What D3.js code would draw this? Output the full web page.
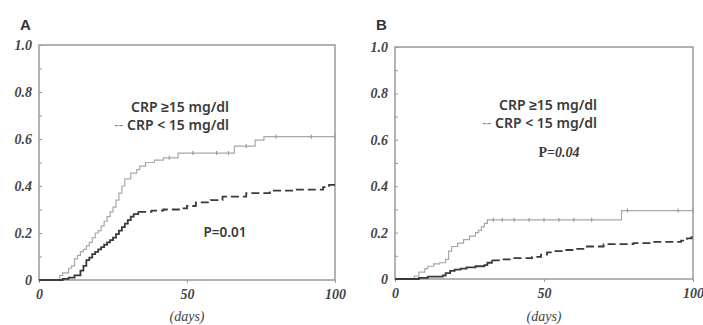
<!DOCTYPE html>
<html>
<head>
<meta charset="utf-8">
<script src="https://cdn.jsdelivr.net/npm/d3@7"></script>
<style>
  body { margin: 0; background: #fff; }
  svg { display: block; }
</style>
</head>
<body>
<svg width="703" height="325"></svg>
<script>
// Kaplan-Meier style step data: [day, cumulative value]
const highA = [[0,0],[7,0.02],[8,0.03],[10,0.05],[11,0.06],[12,0.09],[13,0.105],[14,0.12],[15,0.13],[16,0.145],[17,0.16],[18,0.18],[19,0.2],[20,0.21],[21,0.23],[22,0.25],[23,0.27],[24,0.29],[25,0.31],[26,0.34],[27,0.37],[28,0.4],[29,0.43],[31,0.455],[33,0.47],[34,0.485],[36,0.5],[39,0.51],[42,0.52],[47,0.54],[66,0.57],[73,0.595],[76,0.61],[100,0.61]];
const lowA = [[0,0],[8,0.005],[10,0.01],[12,0.02],[14,0.04],[15,0.06],[16,0.085],[17,0.095],[18,0.11],[19,0.12],[20,0.13],[21,0.14],[22,0.15],[23,0.16],[24,0.17],[25,0.18],[26,0.195],[27,0.21],[28,0.225],[29,0.24],[30,0.255],[31,0.27],[32,0.28],[33.5,0.29],[38,0.295],[42,0.3],[48,0.305],[50,0.315],[53,0.33],[58,0.34],[62,0.355],[70,0.37],[78,0.38],[86,0.385],[96,0.395],[98,0.405],[100,0.405]];
const highB = [[0,0],[6.5,0.013],[8,0.03],[10,0.045],[11,0.055],[13,0.065],[15,0.07],[17,0.085],[18,0.12],[19,0.14],[21,0.155],[23,0.17],[25,0.185],[27,0.2],[28,0.21],[29,0.225],[30,0.24],[31,0.255],[76,0.295],[100,0.295]];
const lowB = [[0,0],[8,0.005],[11,0.01],[16,0.015],[17,0.025],[18.5,0.035],[20,0.04],[22,0.045],[24,0.05],[27,0.055],[30,0.06],[31,0.07],[32.5,0.08],[36,0.085],[40,0.09],[46,0.095],[49,0.105],[51,0.115],[53,0.12],[57,0.125],[60,0.13],[64,0.14],[70,0.15],[80,0.155],[86,0.16],[96,0.165],[98,0.175],[99.5,0.18],[100,0.18]];

// censored observations (small tick marks on the high-CRP curves)
const censorHighA = [44, 52, 60, 64, 70, 80, 92, 100];
const censorHighB = [33, 36, 40, 45, 50, 55, 60, 66, 78, 95, 100];

// day after which the low-CRP curve is drawn dashed
const kneeA = 33.5;
const kneeB = 32.5;

const yTicks = [0, 0.2, 0.4, 0.6, 0.8, 1.0];
const yTickLabels = ['0', '0.2', '0.4', '0.6', '0.8', '1.0'];
const xTicks = [0, 50, 100];
const legendHigh = 'CRP \u226515 mg/dl';
const legendLow = 'CRP < 15 mg/dl';

const panels = [
  { name: 'A', high: highA, low: lowA, censor: censorHighA, knee: kneeA, p: 'P=0.01', box: { l: 39, r: 335, t: 45, b: 280 },
    legendX: 229, legendY: 112, pX: 225, pY: 237, pItalic: false },
  { name: 'B', high: highB, low: lowB, censor: censorHighB, knee: kneeB, p: 'P=0.04', box: { l: 395, r: 693, t: 47, b: 279 },
    legendX: 597, legendY: 110, pX: 559, pY: 157, pItalic: true }
];

const svg = d3.select('svg');

function stepValue(data, day) {
  let v = 0;
  data.forEach(d => { if (d[0] <= day) v = d[1]; });
  return v;
}

panels.forEach(p => {
  const x = d3.scaleLinear().domain([0, 100]).range([p.box.l, p.box.r]);
  const y = d3.scaleLinear().domain([0, 1]).range([p.box.b, p.box.t]);
  const g = svg.append('g');

  // panel letter
  g.append('text')
    .attr('x', p.box.l - 19)
    .attr('y', 30)
    .style('font-family', 'Liberation Sans, Arial, sans-serif')
    .style('font-weight', 'bold')
    .style('font-size', '15px')
    .style('fill', '#333')
    .text(p.name);

  // frame
  g.append('rect')
    .attr('x', x(0)).attr('y', y(1))
    .attr('width', x(100) - x(0)).attr('height', y(0) - y(1))
    .attr('fill', 'none')
    .attr('stroke', '#8a8a8a')
    .attr('stroke-width', 1.3);

  // y axis
  const yAxis = g.append('g')
    .attr('transform', `translate(${x(0)},0)`)
    .call(d3.axisLeft(y).tickValues(d3.range(0, 1.01, 0.1)).tickSize(-3)
      .tickFormat(d => {
        const i = yTicks.findIndex(t => Math.abs(t - d) < 1e-6);
        return i >= 0 ? yTickLabels[i] : '';
      })
      .tickPadding(7));
  yAxis.select('.domain').remove();

  // x axis
  const xAxis = g.append('g')
    .attr('transform', `translate(0,${y(0)})`)
    .call(d3.axisBottom(x).tickValues(xTicks).tickSize(3).tickFormat(d3.format('d')).tickPadding(6));
  xAxis.select('.domain').remove();

  [yAxis, xAxis].forEach(a => {
    a.attr('font-size', null).attr('font-family', null);
    a.selectAll('line').attr('stroke', '#999');
    a.selectAll('text')
      .style('font-family', 'Liberation Serif, Times New Roman, serif')
      .style('font-style', 'italic')
      .style('font-weight', 'bold')
      .style('font-size', '14px')
      .style('fill', '#444');
  });

  g.append('text')
    .attr('x', (x(0) + x(100)) / 2)
    .attr('y', 321)
    .attr('text-anchor', 'middle')
    .style('font-family', 'Liberation Serif, Times New Roman, serif')
    .style('font-style', 'italic')
    .style('font-size', '14px')
    .style('fill', '#444')
    .text('(days)');

  const line = d3.line().x(d => x(d[0])).y(d => y(d[1])).curve(d3.curveStepAfter);

  // high CRP: thin gray line
  g.append('path')
    .datum(p.high)
    .attr('d', line)
    .attr('fill', 'none')
    .attr('stroke', '#a8a8a8')
    .attr('stroke-width', 1.2);

  g.selectAll('.censor')
    .data(p.censor)
    .enter().append('line')
    .attr('class', 'censor')
    .attr('x1', d => x(d)).attr('x2', d => x(d))
    .attr('y1', d => y(stepValue(p.high, d)) - 2)
    .attr('y2', d => y(stepValue(p.high, d)) + 2)
    .attr('stroke', '#999')
    .attr('stroke-width', 1.2);

  // low CRP: dark line, solid on the steep part, dashed afterwards
  g.append('path')
    .datum(p.low.filter(d => d[0] <= p.knee))
    .attr('d', line)
    .attr('fill', 'none')
    .attr('stroke', '#3a3a3a')
    .attr('stroke-width', 1.8);

  g.append('path')
    .datum(p.low.filter(d => d[0] >= p.knee))
    .attr('d', line)
    .attr('fill', 'none')
    .attr('stroke', '#3a3a3a')
    .attr('stroke-width', 1.8)
    .attr('stroke-dasharray', '8,4');

  // legend
  const leg = g.append('text')
    .attr('text-anchor', 'end')
    .style('font-family', 'Noto Sans, sans-serif')
    .style('font-size', '14px')
    .style('font-weight', '600')
    .style('fill', '#3a3a3a');
  leg.append('tspan').attr('x', p.legendX).attr('y', p.legendY).text(legendHigh);
  const l2 = leg.append('tspan').attr('x', p.legendX).attr('y', p.legendY + 18);
  l2.append('tspan').style('fill', '#888').style('font-weight', 'normal').text('-- ');
  l2.append('tspan').text(legendLow);

  // p value
  const pt = g.append('text')
    .attr('x', p.pX)
    .attr('y', p.pY)
    .attr('text-anchor', 'middle')
    .style('font-family', p.pItalic ? 'Liberation Serif, serif' : 'Noto Sans, sans-serif')
    .style('font-size', p.pItalic ? '14px' : '13.5px')
    .style('font-weight', '600')
    .style('fill', '#3a3a3a');
  if (p.pItalic) {
    pt.append('tspan').text('P=');
    pt.append('tspan').style('font-style', 'italic').text(p.p.slice(2));
  } else {
    pt.text(p.p);
  }
});
</script>
</body>
</html>
